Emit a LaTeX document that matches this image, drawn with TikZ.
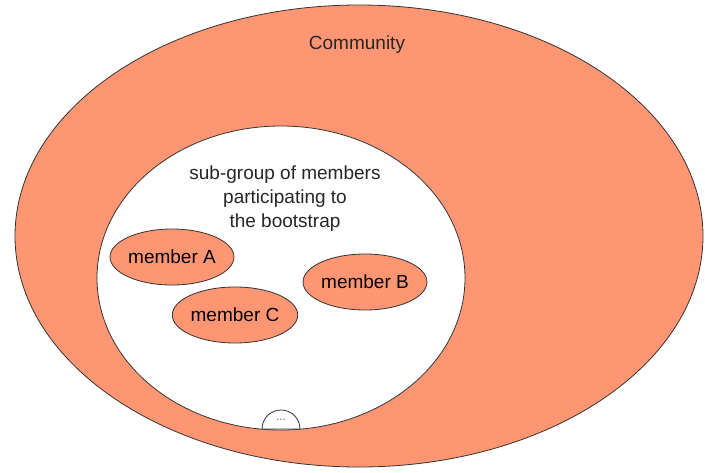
\documentclass[tikz,border=0pt]{standalone}
\usepackage{fontspec}
\setmainfont{Liberation Sans}
\usepackage{xcolor}
\usetikzlibrary{positioning, shapes.geometric}
\definecolor{salmon}{RGB}{255,150,115}
\tikzset{
  blob/.style={draw=black!80, fill=salmon, ellipse, inner sep=0pt, line width=0.8pt},
  member/.style={blob, minimum width=120pt, minimum height=56pt, font=\fontsize{19}{21}\selectfont},
  caption/.style={align=center, font=\fontsize{19}{24}\selectfont, text=black!85}
}
\begin{document}
\begin{tikzpicture}[x=1pt, y=-1pt]
    \useasboundingbox (0,0) rectangle (705,472);
    \node[blob, minimum width=688pt, minimum height=462pt] (community) at (359,236) {};
    \node[caption] (title) at (357,45) {Community};
    \node[blob, fill=white, minimum width=368pt, minimum height=304pt] (subgroup) at (281,278) {};
    \node[caption] (subtitle) at (285,199) {sub-group of members\\participating to\\the bootstrap};
    \node[member] (memA) at (172,257) {member A};
    \node[member] (memB) at (365,282) {member B};
    \node[member] (memC) at (235,315) {member C};
    % the small cap at the bottom
    \draw[draw=black!80, fill=white, line width=0.8pt] (262,429) arc (180:360:19) -- cycle;
    \node[font=\fontsize{12}{12}\selectfont, text=black!60] (more) at (281,420) {...};
  \end{tikzpicture}
\end{document}
